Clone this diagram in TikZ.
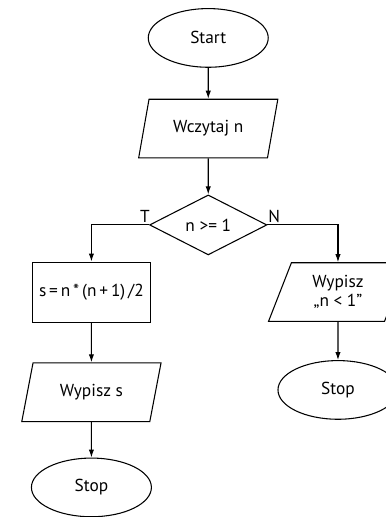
\documentclass[tikz,border=0pt]{standalone}
\usepackage{fontspec}
\setmainfont{PT Sans}
\usetikzlibrary{shapes.geometric, arrows.meta}

\tikzset{% >= latex,
  >={Latex[length=6pt,width=4pt]},
  terminal/.style={ellipse, draw=black, minimum width=90pt, minimum height=44pt, inner sep=0pt},
  io/.style={
    trapezium, draw=black, trapezium stretches=true,
    trapezium left angle=69, trapezium right angle=111,
    minimum width=104.5pt, minimum height=44pt, inner sep=0pt, align=center,
  },
  process/.style={rectangle, draw=black, minimum width=88pt, minimum height=45pt, inner sep=0pt},
  decision/.style={diamond, draw=black, aspect=2, minimum width=88pt, minimum height=45pt, inner sep=0pt},
}

\begin{document}
\begin{tikzpicture}[line width=0.8pt, font=\fontsize{13}{14}\selectfont]
  \path[use as bounding box, clip] (0, 0) rectangle (10.17, 13.63);
  \node[terminal] (start) at (5.49, 12.63) {Start};
  \node[io] (read) at (5.49, 10.24) {Wczytaj n};
  \node[decision] (cond) at (5.49, 7.70) {n >= 1};
  \node (tl) at (3.82, 7.93) {T};
  \node (nl) at (7.23, 7.93) {N};
  \node[process] (calc) at (2.41, 5.93) {s\,=\,n\,*\,(n\,+\,1)\,/2};
  \node[io] (outs) at (2.41, 3.29) {Wypisz s};
  \node[terminal] (stopl) at (2.41, 0.78) {Stop};
  \node[io] (outmsg) at (8.91, 5.93) {Wypisz\\„n < 1”};
  \node[terminal] (stopr) at (8.91, 3.35) {Stop};
  % main branch
  \draw[->] (start) -- (read);
  \draw[->] (read) -- (cond);
  \draw[->] (cond.west) -| (calc);
  \draw[->] (calc) -- (outs);
  \draw[->] (outs) -- (stopl);
  % n < 1
  \draw[->] (cond.east) -| (outmsg);
  \draw[->] (outmsg) -- (stopr);
\end{tikzpicture}
\end{document}
